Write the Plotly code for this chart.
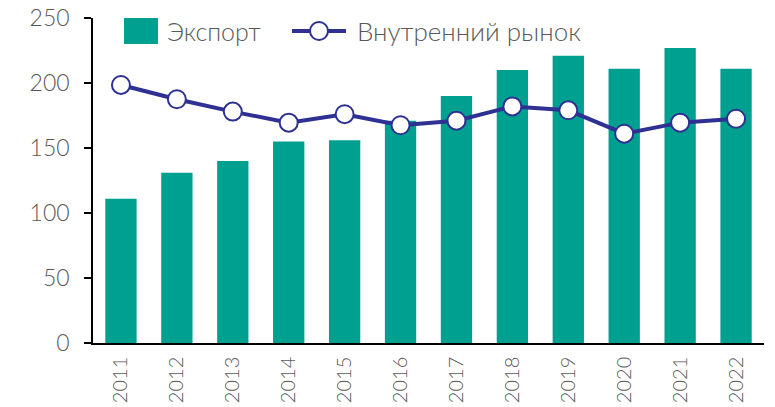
import plotly.graph_objects as go

years = ["2011", "2012", "2013", "2014", "2015", "2016", "2017", "2018", "2019", "2020", "2021", "2022"]
export = [111, 131, 140, 155, 156, 171, 190, 210, 221, 211, 227, 211]
domestic = [198.5, 187.5, 178, 169.5, 176, 167.5, 171, 182, 179, 161, 169.5, 172.5]
y_ticks = [0, 50, 100, 150, 200, 250]

TEAL = "#00A090"
NAVY = "#2E3192"
GREY = "#595959"
FONT = "Lato"
W = 300

fig = go.Figure()
fig.add_trace(go.Bar(x=years, y=export, name="Экспорт", marker=dict(color=TEAL, line=dict(width=0)),
                     width=0.56, showlegend=False))
fig.add_trace(go.Scatter(x=years, y=domestic, name="Внутренний рынок", mode="lines+markers",
                         line=dict(color=NAVY, width=4),
                         marker=dict(size=18, color="white", line=dict(color=NAVY, width=2)),
                         showlegend=False))

# custom legend
fig.add_shape(type="rect", xref="paper", yref="paper", x0=(124-93)/671, x1=(158-93)/671,
              y0=(343-44)/325, y1=(343-18)/325, fillcolor=TEAL, line=dict(width=0))
fig.add_annotation(xref="paper", yref="paper", x=(165-93)/671, y=(343-31)/325, text="Экспорт",
                   showarrow=False, xanchor="left", yanchor="middle",
                   font=dict(family=FONT, size=25, color=GREY, weight=W))
fig.add_shape(type="line", xref="paper", yref="paper", x0=(292-93)/671, x1=(346-93)/671,
              y0=(343-31)/325, y1=(343-31)/325, line=dict(color=NAVY, width=4))
fig.add_shape(type="circle", xref="paper", yref="paper", x0=(310-93)/671, x1=(328-93)/671,
              y0=(343-40)/325, y1=(343-22)/325, fillcolor="white", line=dict(color=NAVY, width=2))
fig.add_annotation(xref="paper", yref="paper", x=(355-93)/671, y=(343-31)/325, text="Внутренний рынок",
                   showarrow=False, xanchor="left", yanchor="middle",
                   font=dict(family=FONT, size=26, color=GREY, weight=W))

fig.update_layout(
    width=775, height=407,
    margin=dict(l=93, r=11, t=18, b=64),
    paper_bgcolor="white", plot_bgcolor="white",
    font=dict(family=FONT, size=20, color=GREY, weight=W),
    bargap=0.44,
)
fig.update_yaxes(range=[0, 250], tickvals=y_ticks, showgrid=False, zeroline=False, automargin=False,
                 showline=True, linecolor="black", linewidth=1.5,
                 ticks="outside", ticklen=7, tickcolor="black", tickwidth=1.5,
                 ticklabelstandoff=10,
                 tickfont=dict(family=FONT, size=23, color=GREY, weight=W))
fig.update_xaxes(type="category", range=[-0.5, len(years) - 0.5], showgrid=False, showline=True,
                 linecolor="black", linewidth=1.5,
                 automargin=False, ticks="", tickangle=-90, ticklabelstandoff=4,
                 tickfont=dict(family=FONT, size=20, color=GREY, weight=W))

fig.write_html("out.html", post_script="document.body.style.margin='0';",
               config={"displayModeBar": False})
